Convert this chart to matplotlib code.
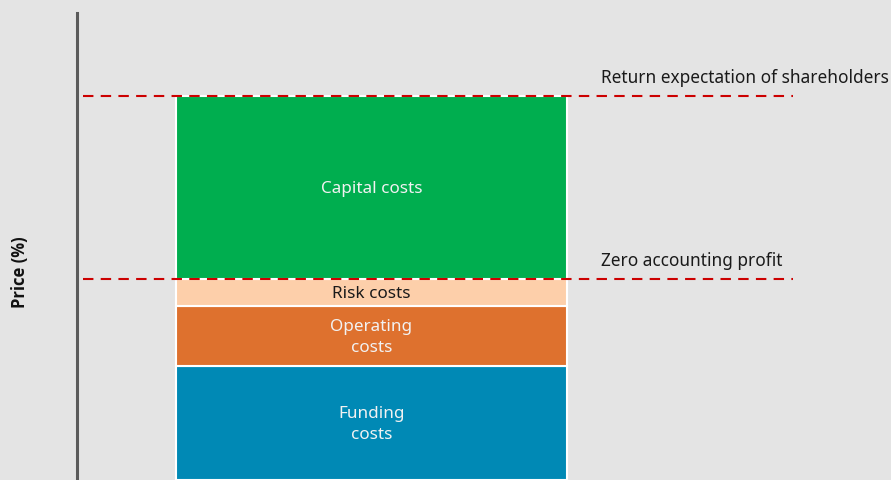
import matplotlib.pyplot as plt

# === DATA ===
segments = ["Funding\ncosts", "Operating\ncosts", "Risk costs", "Capital costs"]
heights = [11.4, 6.0, 2.7, 18.3]
seg_colors = ["#0089b5", "#de712e", "#fdcfaa", "#00ae4f"]
text_colors = ["#f2f2f2", "#f2f2f2", "#1a1a1a", "#f2f2f2"]
ref_labels = ["Zero accounting profit", "Return expectation of shareholders"]
ref_levels = [20.1, 38.4]

plt.rcParams['font.family'] = ['Noto Sans', 'DejaVu Sans']
BG = "#e4e4e4"

fig = plt.figure(figsize=(8.91, 4.80), dpi=100, facecolor=BG)
ax = fig.add_axes([77 / 891, 0, 1 - 77 / 891, 467 / 480], facecolor=BG)

# === STACKED BAR ===
bottom = 0
for name, h, col, tc in zip(segments, heights, seg_colors, text_colors):
    ax.bar(0, h, width=1.0, bottom=bottom, color=col, edgecolor="white", linewidth=1.5, zorder=2)
    ax.text(0, bottom + h / 2 - 0.15, name, ha="center", va="center", color=tc,
            fontsize=12.3, linespacing=1.45, zorder=3)
    bottom += h

# === REFERENCE LINES ===
for lab, lvl in zip(ref_labels, ref_levels):
    ax.plot([-0.738, 1.078], [lvl, lvl], color="#cc0000", linestyle=(0, (5, 3.5)),
            linewidth=1.5, zorder=4)
    ax.text(0.587, lvl + 0.9, lab, ha="left", va="bottom", fontsize=12.4, color="#1a1a1a")

ax.set_xlim(-0.753, 1.3286)
ax.set_ylim(0, 46.7)
ax.set_xticks([])
ax.set_yticks([])
for s in ["top", "right", "bottom"]:
    ax.spines[s].set_visible(False)
ax.spines["left"].set_color("#5a5a5a")
ax.spines["left"].set_linewidth(2.2)

fig.text(20 / 891, 1 - 272 / 480, "Price (%)", rotation=90, ha="center", va="center",
         fontsize=12, fontweight="bold", color="#111111", family=["Open Sans", "DejaVu Sans"])

fig.savefig("out.png", dpi=100, facecolor=BG)
